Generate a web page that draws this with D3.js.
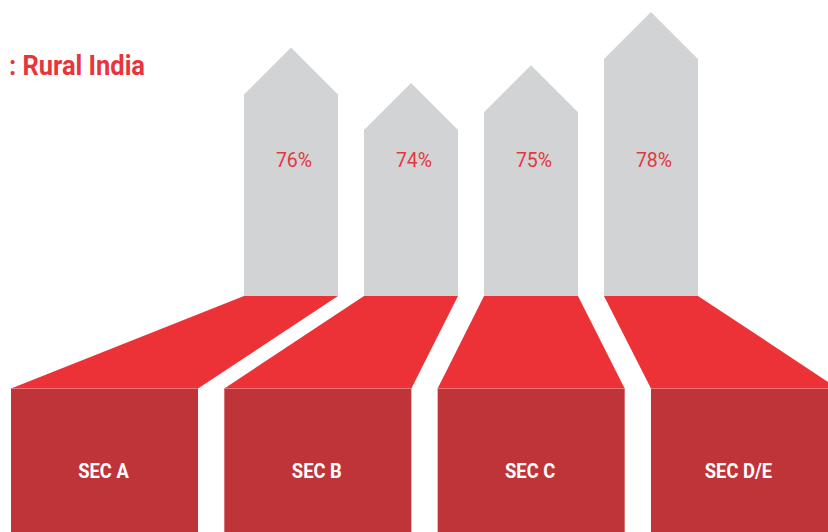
<!DOCTYPE html>
<html>
<head>
<meta charset="utf-8">
<script src="https://cdn.jsdelivr.net/npm/d3@7"></script>
<style>
  html, body { margin: 0; padding: 0; background: #ffffff; overflow: hidden; }
  svg { display: block; }
  text { font-family: Roboto, "Noto Sans", sans-serif; }
</style>
</head>
<body>
<svg id="chart" width="828" height="532"></svg>
<script>
// Socio-economic classes and their share
const categories = ["SEC A", "SEC B", "SEC C", "SEC D/E"];
const values = [76, 74, 75, 78];
const valueLabels = ["76%", "74%", "75%", "78%"];
const title = ": Rural India";

const W = 828, H = 532;
const svg = d3.select("#chart");

const colors = {
  column: "#d1d3d4",
  ramp: "#ec3237",
  base: "#bf3438",
  accent: "#e8343a",
  label: "#e2383e",
  baseText: "#ffffff"
};

// Horizontal bands: narrow arrows on top, wide blocks at the bottom
const xTop = d3.scaleBand().domain(categories).range([244, 698]).paddingInner(26 / 120).paddingOuter(0);
const xBottom = d3.scaleBand().domain(categories).range([11, 838]).paddingInner(26.3 / 213.3).paddingOuter(0);

// Vertical: value -> arrow tip height
const baseY = 296;      // where the arrows meet the ramps
const blockY = 388.5;   // where the ramps meet the blocks
const headH = 47;       // arrow head height
const y = d3.scaleLinear().domain([62, 78]).range([baseY, 12]);

const rows = categories.map((c, i) => ({ cat: c, value: values[i], label: valueLabels[i] }));

// Arrow columns
svg.append("g").selectAll("path").data(rows).join("path")
  .attr("fill", colors.column)
  .attr("d", d => {
    const x0 = xTop(d.cat), x1 = x0 + xTop.bandwidth(), xm = x0 + xTop.bandwidth() / 2;
    const tip = y(d.value), shoulder = tip + headH;
    return `M${x0},${baseY}L${x0},${shoulder}L${xm},${tip}L${x1},${shoulder}L${x1},${baseY}Z`;
  });

// Ramps fanning out from the columns to the blocks
svg.append("g").selectAll("path").data(rows).join("path")
  .attr("fill", colors.ramp)
  .attr("d", d => {
    const t0 = xTop(d.cat), t1 = t0 + xTop.bandwidth();
    const b0 = xBottom(d.cat), b1 = b0 + xBottom.bandwidth();
    return `M${t0},${baseY}L${t1},${baseY}L${b1},${blockY}L${b0},${blockY}Z`;
  });

// Base blocks
svg.append("g").selectAll("rect").data(rows).join("rect")
  .attr("fill", colors.base)
  .attr("x", d => xBottom(d.cat))
  .attr("y", blockY)
  .attr("width", xBottom.bandwidth())
  .attr("height", H - blockY + 2);

// Light seam along the top of each block
svg.append("g").selectAll("line").data(rows).join("line")
  .attr("x1", d => xBottom(d.cat))
  .attr("x2", d => xBottom(d.cat) + xBottom.bandwidth())
  .attr("y1", blockY).attr("y2", blockY)
  .attr("stroke", "#f2777b").attr("stroke-width", 1).attr("stroke-opacity", 0.7);

// Value labels inside the columns
svg.append("g").selectAll("g").data(rows).join("g")
  .attr("transform", d => `translate(${xTop(d.cat) + xTop.bandwidth() / 2 + 3},167) scale(0.93,1)`)
  .append("text")
  .attr("text-anchor", "middle")
  .attr("font-size", 21)
  .attr("font-weight", 400)
  .attr("fill", colors.label)
  .text(d => d.label);

// Category labels on the blocks
svg.append("g").selectAll("g").data(rows).join("g")
  .attr("transform", d => {
    const x0 = xBottom(d.cat), x1 = Math.min(x0 + xBottom.bandwidth(), W);
    return `translate(${(x0 + x1) / 2 - 1},477.5) scale(0.92,1)`;
  })
  .append("text")
  .attr("text-anchor", "middle")
  .attr("font-size", 20)
  .attr("font-weight", 700)
  .attr("fill", colors.baseText)
  .text(d => d.cat);

// Title
svg.append("g")
  .attr("transform", "translate(145,75) scale(0.91,1)")
  .append("text")
  .attr("text-anchor", "end")
  .attr("font-size", 28)
  .attr("font-weight", 700)
  .attr("fill", colors.accent)
  .text(title);
</script>
</body>
</html>
